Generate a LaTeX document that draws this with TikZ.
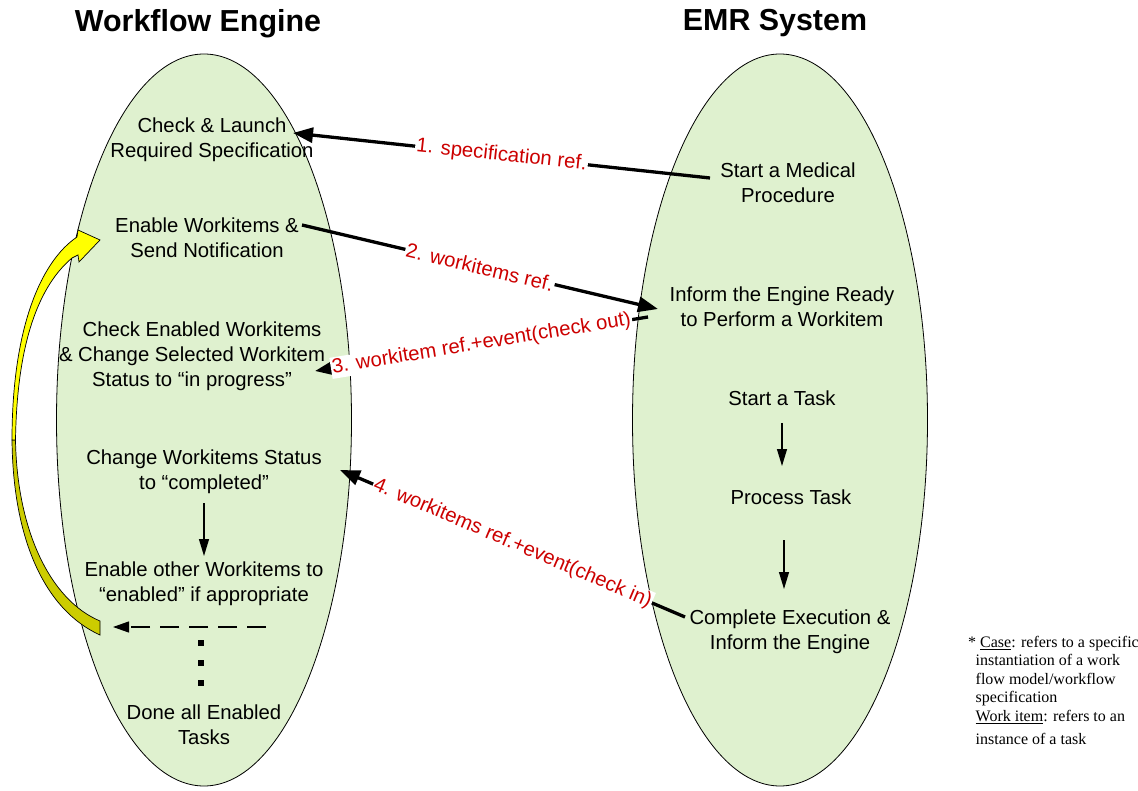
\documentclass[tikz,border=0pt]{standalone}
\usepackage{fontspec}
\setmainfont{Liberation Sans}
\newfontfamily\notefont{Liberation Serif}
\usetikzlibrary{arrows.meta,shapes.geometric}
\definecolor{ellgreen}{RGB}{223,241,207}
\definecolor{lblred}{RGB}{204,0,0}
\definecolor{yelbright}{RGB}{255,255,0}
\definecolor{yeldark}{RGB}{204,204,0}
\begin{document}
\begin{tikzpicture}[x=1pt,y=-1pt,
  sysell/.style={ellipse, draw=black, line width=0.8pt, fill=ellgreen, inner sep=0pt, minimum width=295pt, minimum height=732pt},
  stepbox/.style={font=\fontsize{20.3}{25}\selectfont, align=center, inner sep=0pt},
  titlebox/.style={font=\fontsize{30.4}{36}\selectfont\bfseries, inner sep=0pt},
  msgline/.style={line width=3.3pt, -{Triangle[length=20pt,width=15pt]}},
  msglbl/.style={font=\fontsize{20.3}{24}\selectfont, text=lblred, fill=white, inner sep=1.2pt, sloped},
  flowarrow/.style={line width=1.2pt, -{Triangle[length=17pt,width=10pt]}},
  dotsq/.style={rectangle, fill=black, inner sep=0pt, minimum size=6pt},
  yelarrow/.style={draw=black, line width=0.7pt, line join=miter},
]
\useasboundingbox (0,0) rectangle (1138,791);

% systems
\node[sysell] (wfe) at (204,420) {};
\node[sysell] (emr) at (780,420) {};

% titles
\node[titlebox] (wtitle) at (198,24) {Workflow Engine};
\node[titlebox] (etitle) at (775,23) {EMR System};

% yellow curved arrow
\path[yelarrow, fill=yeldark] (12,440) .. controls (13,540) and (45,610) .. (100,635)
  -- (100,621) .. controls (50,600) and (17,530) .. (15.5,440) -- cycle;
\path[yelarrow, fill=yelbright] (78,230) -- (100,240) -- (79,262) -- (78,255)
  -- (72,258) .. controls (40,285) and (17,340) .. (15.5,440)
  -- (12,440) .. controls (12,330) and (40,262) .. (77,237) -- cycle;

% workflow engine steps
\node[stepbox] (launch) at (212,140) {Check \& Launch\\Required Specification};
\node[stepbox] (enable) at (207,238) {Enable Workitems \&\\Send Notification};
\node[stepbox] (checken) at (192,356) {\hspace*{20pt}Check Enabled Workitems\\\& Change Selected Workitem\\Status to “in progress”};
\node[stepbox] (compl) at (204,472) {Change Workitems Status\\to “completed”};
\node[stepbox] (other) at (204,584) {Enable other Workitems to\\“enabled” if appropriate};
\node[stepbox] (done) at (204,725) {Done all Enabled\\Tasks};

% EMR steps
\node[stepbox] (medical) at (788,183) {Start a Medical\\Procedure};
\node[stepbox] (ready) at (782,307) {Inform the Engine Ready\\to Perform a Workitem};
\node[stepbox] (starttask) at (782,398) {Start a Task};
\node[stepbox] (process) at (791,497) {Process Task};
\node[stepbox] (exec) at (790,632) {Complete Execution \&\\Inform the Engine};

% inner flow arrows
\coordinate (fa1) at (204,503); \coordinate (fa2) at (204,556);
\draw[flowarrow] (fa1) -- (fa2);
\coordinate (fb1) at (782,423); \coordinate (fb2) at (782,466);
\draw[flowarrow] (fb1) -- (fb2);
\coordinate (fc1) at (784,540); \coordinate (fc2) at (784,589);
\draw[flowarrow] (fc1) -- (fc2);

% dashed return arrow and dots
\coordinate (da1) at (266,627); \coordinate (da2) at (113,627);
\draw[line width=1.2pt, dash pattern=on 19pt off 10pt, -{Triangle[length=16pt,width=11pt]}] (da1) -- (da2);
\node[dotsq] (dot1) at (200.5,643) {};
\node[dotsq] (dot2) at (200.5,663) {};
\node[dotsq] (dot3) at (200.5,683) {};

% messages
\coordinate (m1s) at (710,178); \coordinate (m1e) at (293,133);
\draw[msgline] (m1s) -- node[msglbl, pos=0.5] {1. specification ref.} (m1e);
\coordinate (m2s) at (302,225); \coordinate (m2e) at (658,309);
\draw[msgline] (m2s) -- node[msglbl, pos=0.5] {2. workitems ref.} (m2e);
\coordinate (m3s) at (648,317); \coordinate (m3e) at (315,371);
\draw[msgline] (m3s) -- node[msglbl, pos=0.5] {3. workitem ref.+event(check out)} (m3e);
\coordinate (m4s) at (685,617); \coordinate (m4e) at (340,470);
\draw[msgline] (m4s) -- node[msglbl, pos=0.5] {4. workitems ref.+event(check in)} (m4e);

% footnote
\node[font=\notefont\fontsize{16}{18.5}\selectfont, align=left, anchor=north west, inner sep=0pt] (note) at (968,636)
 {* \underline{Case}: refers to a specific\\
  \hspace*{7.5pt}instantiation of a work\\
  \hspace*{7.5pt}flow model/workflow\\
  \hspace*{7.5pt}specification\\
  \hspace*{7.5pt}\underline{Work item}: refers to an\\[5pt]
  \hspace*{7.5pt}instance of a task};
\end{tikzpicture}
\end{document}
